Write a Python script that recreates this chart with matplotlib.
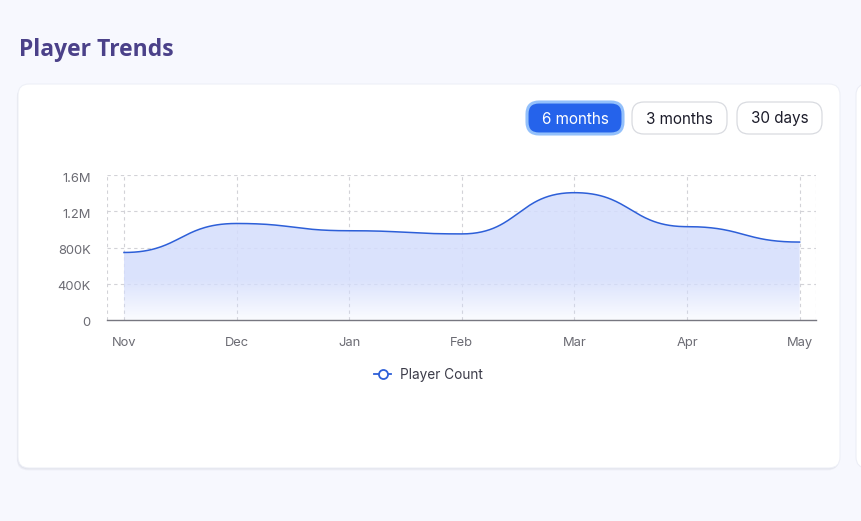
import numpy as np
import matplotlib.pyplot as plt
from matplotlib.patches import FancyBboxPatch, Polygon
from matplotlib.lines import Line2D
from matplotlib.transforms import ScaledTranslation

plt.rcParams['font.family'] = ['Inter', 'DejaVu Sans']

# data
months = ['Nov', 'Dec', 'Jan', 'Feb', 'Mar', 'Apr', 'May']
players = [745000, 1065000, 985000, 950000, 1405000, 1030000, 860000]
y_ticks = [0, 400000, 800000, 1200000, 1600000]
y_tick_labels = ['0', '400K', '800K', '1.2M', '1.6M']
buttons = ['6 months', '3 months', '30 days']


def bump_x(x, y, n=60):
    # bezier between points with flat tangents (like d3 curveBumpX)
    xs, ys = [], []
    for i in range(len(x) - 1):
        t = np.linspace(0, 1, n, endpoint=(i == len(x) - 2))
        x0, x1, y0, y1 = x[i], x[i+1], y[i], y[i+1]
        xm = (x0 + x1) / 2
        bx = (1-t)**3*x0 + 3*(1-t)**2*t*xm + 3*(1-t)*t**2*xm + t**3*x1
        by = (1-t)**3*y0 + 3*(1-t)**2*t*y0 + 3*(1-t)*t**2*y1 + t**3*y1
        xs.append(bx)
        ys.append(by)
    return np.concatenate(xs), np.concatenate(ys)


W, H = 861, 521
fig = plt.figure(figsize=(W/100, H/100), dpi=100)
fig.patch.set_facecolor('#f7f8fe')

bg = fig.add_axes([0, 0, 1, 1], zorder=0)
bg.set_xlim(0, W)
bg.set_ylim(H, 0)
bg.axis('off')

# card + shadow
for k, a in [(4, 0.035), (2.5, 0.045), (1.2, 0.055)]:
    bg.add_patch(FancyBboxPatch((18 - k*0.3, 84 + k*0.6), 822, 384, boxstyle='round,pad=0,rounding_size=11',
                                fc='#1e2350', ec='none', alpha=a))
bg.add_patch(FancyBboxPatch((18, 84), 822, 384, boxstyle='round,pad=0,rounding_size=11',
                            fc='white', ec='#eef0f7', lw=0.8))
# edge of the next card on the right
bg.add_patch(FancyBboxPatch((856, 84), 40, 384, boxstyle='round,pad=0,rounding_size=11',
                            fc='white', ec='#eceef6', lw=0.8))

bg.text(19, 50, 'Player Trends', fontsize=16.5, fontweight='bold', color='#4b4189',
        va='center', ha='left', family=['Open Sans', 'DejaVu Sans'])

# range buttons
bx = [(527, 96), (632, 95), (737, 85)]
for (x0, w), lab in zip(bx, buttons):
    if lab == '6 months':
        bg.add_patch(FancyBboxPatch((x0, 102), w, 32, boxstyle='round,pad=0,rounding_size=12',
                                    fc='#2563eb', ec='#93c0fb', lw=2.2))
        col = 'white'
    else:
        bg.add_patch(FancyBboxPatch((x0, 102), w, 32, boxstyle='round,pad=0,rounding_size=12',
                                    fc='white', ec='#d9dbe0', lw=0.9))
        col = '#1d1d2b'
    bg.text(x0 + w/2, 123.5, lab, fontsize=11, color=col, ha='center', va='baseline')

# legend
bg.add_line(Line2D([374, 391], [374, 374], color='#2d5fd8', lw=1.3))
bg.plot([382.5], [374], marker='o', ms=6.5, mfc='white', mec='#2d5fd8', mew=1.3)
bg.text(400, 374.5, 'Player Count', fontsize=9.8, color='#3b3b48', ha='left', va='center')

# chart
pad = 0.148
ax = fig.add_axes([107.3/W, 1 - 320/H, (816.3 - 107.3)/W, (320 - 175)/H], zorder=1)
ax.patch.set_alpha(0)
xi = np.arange(len(months))

grid_kw = dict(color='#d2d2d7', lw=0.8, dashes=(3, 3), zorder=1)
for yv in y_ticks[1:]:
    ax.axhline(yv, **grid_kw)
for xv in list(xi) + [-pad, len(months) - 1 + pad]:
    ax.axvline(xv, **grid_kw)

cx, cy = bump_x(xi, players)
verts = np.vstack([np.column_stack([cx, cy]), [[cx[-1], 0], [cx[0], 0]]])
poly = Polygon(verts, closed=True, fc='none', ec='none')
ax.add_patch(poly)
top = max(players)
grad = np.linspace(0, 1, 256)   # 0 = top, 1 = bottom
alpha = np.where(grad < 0.68, 0.85, 0.85 - (grad - 0.68) / 0.32 * 0.75)
img = np.zeros((256, 1, 4))
img[..., 0] = 0.835
img[..., 1] = 0.867
img[..., 2] = 0.992
img[..., 3] = alpha[:, None]
im = ax.imshow(img, extent=[cx[0], cx[-1], 0, top], aspect='auto', zorder=2,
               interpolation='bilinear', origin='upper')
im.set_clip_path(poly)
ax.set_ylim(0, 1600000)
ax.set_xlim(-pad, len(months) - 1 + pad)
ax.plot(cx, cy, color='#2d5fd8', lw=1.1, zorder=3)

for sp in ['top', 'right', 'left']:
    ax.spines[sp].set_visible(False)
ax.spines['bottom'].set_color('#777780')
ax.spines['bottom'].set_linewidth(1)
ax.spines['bottom'].set_zorder(4)
ax.set_xticks(xi)
ax.set_xticklabels(months)
ax.set_yticks(y_ticks)
ax.set_yticklabels(y_tick_labels)
ax.tick_params(length=0, labelsize=9.3, labelcolor='#6b6b73')
ax.tick_params(axis='x', pad=12)
ax.tick_params(axis='y', pad=12)
shift = ScaledTranslation(0, -2/100, fig.dpi_scale_trans)
for lab in ax.get_yticklabels():
    lab.set_transform(lab.get_transform() + shift)

fig.savefig('out.png', dpi=100, facecolor=fig.get_facecolor())
